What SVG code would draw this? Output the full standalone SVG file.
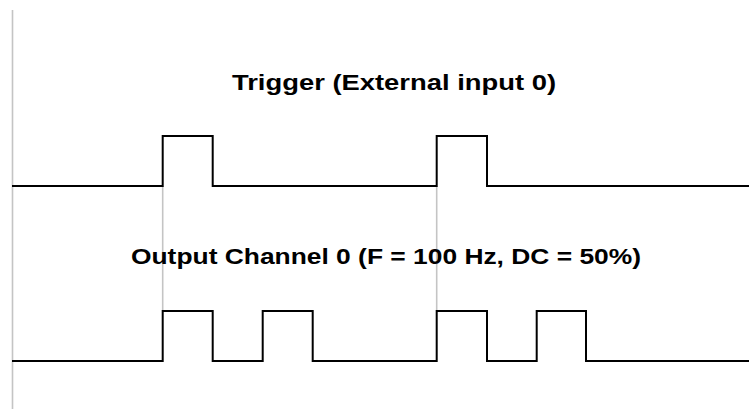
<svg xmlns="http://www.w3.org/2000/svg" width="749" height="409" viewBox="0 0 749 409">
<style>
.sig{fill:none;stroke:#000;stroke-width:2;stroke-linejoin:miter}
.guide{fill:none;stroke:#c4c4c4;stroke-width:1.6}
.lbl{font-family:"Liberation Sans",Arial,sans-serif;font-weight:bold;font-size:22px;fill:#000}
</style>
<rect width="749" height="409" fill="#fff"/>
<g id="guides">
<line class="guide" x1="12.5" y1="10" x2="12.5" y2="409"/>
<line class="guide" x1="162.7" y1="186" x2="162.7" y2="311"/>
<line class="guide" x1="436.7" y1="186" x2="436.7" y2="311"/>
</g>
<g id="trigger">
<text class="lbl" x="232" y="90" textLength="324" lengthAdjust="spacingAndGlyphs">Trigger (External input 0)</text>
<polyline class="sig" points="12,186 162.7,186 162.7,136 212.7,136 212.7,186 436.7,186 436.7,136 487,136 487,186 749,186"/>
</g>
<g id="output">
<text class="lbl" x="131" y="264" textLength="510" lengthAdjust="spacingAndGlyphs">Output Channel 0 (F = 100 Hz, DC = 50%)</text>
<polyline class="sig" points="12,361 162.7,361 162.7,311 212.7,311 212.7,361 262.7,361 262.7,311 312.7,311 312.7,361 436.7,361 436.7,311 487,311 487,361 536.7,361 536.7,311 586,311 586,361 749,361"/>
</g>
</svg>
